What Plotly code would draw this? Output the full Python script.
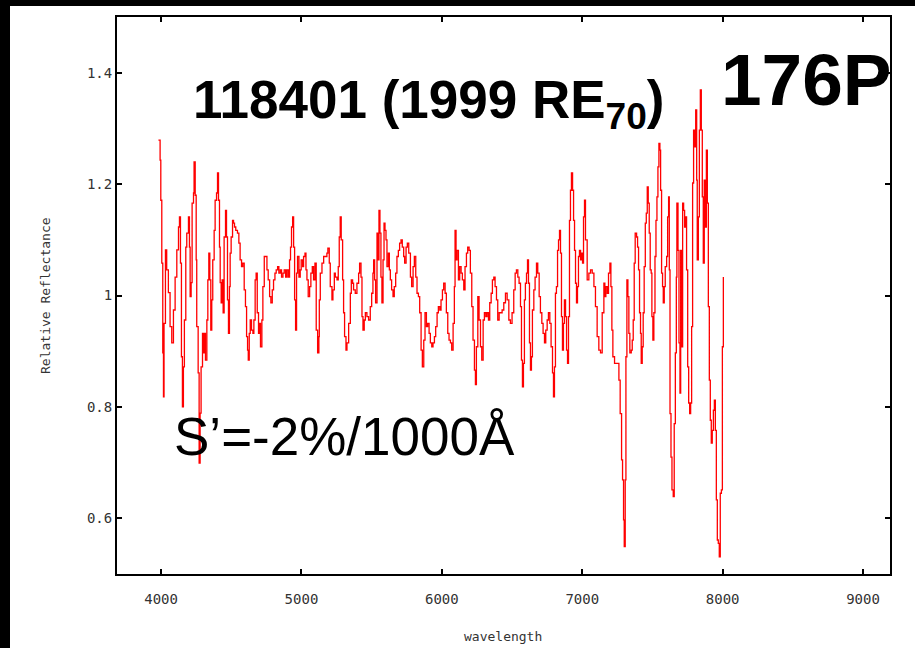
import plotly.graph_objects as go

# wavelength (Angstrom) and relative reflectance
wavelength = [
    3981, 3993, 3998, 4005, 4012, 4017, 4021, 4031, 4040, 4052, 4064, 4076, 4088, 4100, 4112, 4124,
    4131, 4138, 4145, 4152, 4159, 4166, 4176, 4183, 4195, 4202, 4207, 4214, 4221, 4231, 4235, 4243,
    4250, 4254, 4264, 4271, 4278, 4285, 4295, 4302, 4309, 4316, 4326, 4333, 4340, 4347, 4354, 4361,
    4368, 4378, 4385, 4395, 4402, 4409, 4416, 4421, 4428, 4435, 4442, 4449, 4459, 4466, 4473, 4480,
    4487, 4492, 4499, 4509, 4516, 4523, 4532, 4544, 4554, 4563, 4573, 4582, 4592, 4601, 4609, 4616,
    4621, 4628, 4635, 4644, 4654, 4661, 4670, 4677, 4685, 4694, 4701, 4708, 4718, 4725, 4735, 4744,
    4754, 4763, 4773, 4782, 4792, 4801, 4811, 4820, 4830, 4839, 4849, 4858, 4868, 4877, 4887, 4896,
    4906, 4915, 4922, 4929, 4937, 4944, 4951, 4958, 4965, 4972, 4982, 4991, 4998, 5008, 5015, 5025,
    5032, 5039, 5048, 5058, 5067, 5077, 5086, 5096, 5105, 5115, 5124,
    5127, 5134, 5146, 5158, 5169, 5181, 5188, 5198, 5205, 5217, 5224, 5234, 5241, 5253, 5262, 5269,
    5276, 5283, 5293, 5300, 5307, 5317, 5324, 5336, 5348, 5355, 5364, 5371, 5383, 5395, 5407, 5414,
    5424, 5431, 5438, 5447, 5455, 5466, 5478, 5490, 5500, 5509, 5514, 5521, 5528, 5538, 5545, 5552,
    5559, 5566, 5573, 5581, 5588, 5595, 5602, 5609, 5619, 5626, 5633, 5642, 5652, 5661, 5671, 5680,
    5690, 5699, 5709, 5718, 5728, 5735, 5745, 5754, 5764, 5776, 5785, 5795, 5804, 5814, 5823, 5833,
    5842, 5852, 5861, 5871, 5880, 5890, 5899, 5909, 5918, 5928, 5937, 5947, 5956, 5966, 5975, 5985,
    5994, 6004, 6013, 6023, 6032, 6042, 6051, 6061, 6070, 6080, 6089, 6094, 6101, 6108, 6118, 6127,
    6137, 6146, 6156, 6165, 6175, 6184, 6194, 6203, 6213, 6222, 6232, 6239, 6246, 6256, 6265, 6275,
    6284, 6294, 6303, 6313, 6322, 6332, 6341, 6351, 6360, 6370, 6379, 6389, 6398, 6408,
    6429, 6441, 6453, 6465, 6477, 6488, 6500, 6512, 6522, 6531, 6541, 6550, 6560, 6567, 6574, 6581,
    6588, 6595, 6603, 6610, 6617, 6624, 6631, 6638, 6645, 6655, 6664, 6674, 6683, 6693, 6702, 6712,
    6721, 6731, 6740, 6750, 6759, 6769, 6778, 6788, 6795, 6802, 6809, 6816, 6824, 6831, 6838, 6845,
    6852, 6859, 6866, 6873, 6881, 6888, 6895, 6902, 6909, 6916, 6923, 6931, 6938, 6945, 6952, 6959,
    6966, 6973, 6980, 6988, 6995, 7002,
    7009, 7016, 7023, 7035, 7047, 7059, 7071, 7083, 7094, 7106, 7118, 7130, 7142, 7154, 7161, 7168,
    7178, 7187, 7197, 7204, 7211, 7218, 7230, 7242, 7254, 7261, 7270, 7280, 7287, 7294, 7299, 7306,
    7311, 7318, 7325, 7332, 7339, 7349, 7356, 7363, 7370, 7377, 7387, 7394, 7401, 7408, 7415, 7420,
    7427, 7434, 7441, 7449, 7456, 7463, 7470, 7477, 7484, 7491, 7496, 7503, 7510, 7518, 7525, 7532,
    7539, 7546, 7553, 7558, 7565, 7572, 7577, 7584, 7591, 7601, 7608, 7615, 7620, 7625, 7632, 7639,
    7648, 7655, 7663, 7670, 7674, 7682, 7689, 7696, 7701, 7708, 7715, 7722, 7729, 7736, 7743, 7751,
    7758, 7765, 7772, 7779, 7786, 7793, 7800, 7808, 7815, 7819, 7827, 7834, 7841, 7848, 7855, 7862,
    7869, 7876, 7884, 7891, 7898, 7905, 7912, 7919, 7926, 7934, 7941, 7948, 7955, 7962, 7969, 7976,
    7983, 7991, 7998, 8005,
]

reflectance = [
    1.279, 1.243, 1.171, 1.058, 0.897, 0.818, 0.950, 1.082, 1.046, 1.005, 0.944, 0.915, 0.974, 1.033, 1.082, 1.123,
    1.141, 1.058, 0.890, 0.800, 0.872, 0.956, 1.087, 1.112, 1.141, 1.087, 0.998, 1.023, 1.166, 1.184, 1.240, 1.180,
    1.064, 0.944, 0.861, 0.699, 0.789, 0.872, 0.932, 0.897, 0.932, 0.884, 0.956, 1.028, 1.076, 1.028, 0.938, 0.992,
    1.064, 1.117, 1.171, 1.184, 1.220, 1.171, 1.087, 1.023, 0.987, 1.028, 0.969, 1.105, 1.153, 1.105, 0.992, 0.932,
    1.016, 1.076, 1.105, 1.135, 1.130, 1.123, 1.117, 1.112, 1.094, 1.064, 1.052, 1.058, 1.010, 0.980, 0.926, 0.902,
    0.884, 0.932, 0.956, 0.938, 0.932, 0.956, 1.028, 1.040, 0.969, 0.932, 0.950, 0.908, 0.956, 1.016, 1.070, 1.070,
    1.046, 1.028, 0.998, 0.987, 1.010, 1.028, 1.040, 1.046, 1.052, 1.040, 1.046, 1.033, 1.040, 1.046, 1.033, 1.046,
    1.033, 1.064, 1.087, 1.123, 1.141, 1.087, 0.992, 0.938, 1.040, 1.070, 1.033, 1.046, 1.064, 1.052, 1.070, 1.076,
    1.046, 1.028, 0.998, 1.016, 1.040, 1.052, 1.028, 1.058, 0.938, 0.897, 0.926,
    0.992, 1.040, 1.058, 1.070, 1.070, 1.076, 1.085, 1.058, 1.016, 0.992, 1.010, 1.040, 1.033, 1.028, 1.052, 1.105,
    1.141, 1.100, 1.028, 0.969, 0.926, 0.902, 0.915, 0.950, 1.004, 1.028, 1.022, 1.010, 1.004, 1.022, 1.040, 1.058,
    1.033, 0.962, 0.938, 0.956, 0.969, 0.962, 0.956, 0.980, 1.004, 1.040, 1.064, 1.028, 0.987, 1.112, 1.064, 1.153,
    1.112, 1.033, 0.987, 1.064, 1.130, 1.117, 1.100, 1.052, 1.076, 1.046, 1.028, 1.010, 0.998, 1.016, 1.040, 1.070,
    1.081, 1.094, 1.100, 1.087, 1.070, 1.058, 1.087, 1.094, 1.076, 1.033, 1.016, 1.052, 1.070, 1.033, 1.004, 0.998,
    0.969, 0.902, 0.872, 0.920, 0.969, 0.944, 0.950, 0.932, 0.915, 0.908, 0.915, 0.926, 0.944, 0.969, 0.980, 0.974,
    0.992, 1.010, 1.022, 1.004, 0.969, 0.932, 0.920, 0.915, 0.902, 0.950, 1.016, 1.117, 1.064, 1.081, 1.028, 1.052,
    1.040, 1.028, 1.010, 1.052, 1.076, 1.087, 1.081, 1.040, 0.980, 0.920, 0.866, 0.840, 0.908, 0.998, 0.956, 0.908,
    0.884, 0.956, 0.969, 0.962, 0.969, 0.956, 0.987, 1.004, 1.028, 1.033, 1.016, 0.992, 0.956, 0.969,
    0.974, 0.987, 1.004, 0.992, 0.956, 0.950, 0.969, 1.010, 1.040, 1.046, 1.033, 1.022, 0.980, 0.884, 0.836, 0.878,
    0.992, 1.022, 1.040, 1.064, 1.022, 0.915, 0.866, 0.890, 0.974, 1.010, 1.033, 1.058, 1.040, 0.998, 0.969, 0.950,
    0.932, 0.915, 0.938, 0.956, 0.969, 0.950, 0.908, 0.861, 0.818, 0.872, 1.004, 1.016, 1.081, 1.100, 1.117, 1.076,
    0.962, 0.902, 0.950, 0.992, 0.962, 0.902, 0.878, 0.962, 1.135, 1.189, 1.220, 1.189, 1.135, 1.081, 1.022, 0.987,
    1.016, 1.070, 1.081, 1.064, 1.076, 1.058,
    1.141, 1.171, 1.100, 1.028, 1.040, 1.046, 1.040, 1.016, 0.980, 0.926, 0.902, 0.897, 0.969, 1.022, 0.998, 1.016,
    1.004, 1.040, 1.058, 1.016, 0.938, 0.890, 0.878, 0.878, 0.878, 0.848, 0.788, 0.705, 0.669, 0.597, 0.549, 0.669,
    0.890, 1.028, 0.998, 0.932, 0.897, 0.902, 0.920, 0.956, 1.058, 1.112, 1.105, 1.087, 1.046, 0.969, 0.932, 0.878,
    0.908, 0.969, 1.052, 1.130, 1.148, 1.195, 1.166, 1.112, 1.046, 1.040, 0.962, 0.920, 0.969, 1.070, 1.135, 1.177,
    1.231, 1.273, 1.261, 1.189, 1.040, 1.016, 0.987, 1.016, 1.052, 1.070, 1.141, 1.177, 1.046, 0.788, 0.710, 0.651,
    0.639, 0.770, 0.897, 1.033, 1.166, 1.081, 0.915, 0.825, 1.081, 0.908, 1.166, 1.153, 1.123, 1.141, 1.046, 0.872,
    0.807, 0.788, 0.807, 0.944, 1.202, 1.297, 1.267, 1.333, 1.207, 1.064, 1.141, 1.297, 1.369, 1.297, 1.177, 1.058,
    1.207, 1.123, 1.261, 1.166, 0.980, 0.848, 0.776, 0.735, 0.758, 0.794, 0.812, 0.758, 0.633, 0.561, 0.555, 0.531,
    0.645, 0.651, 0.908, 1.033,
]

x_ticks = [4000, 5000, 6000, 7000, 8000, 9000]
x_tick_labels = ["4000", "5000", "6000", "7000", "8000", "9000"]
y_ticks = [0.6, 0.8, 1.0, 1.2, 1.4]
y_tick_labels = ["0.6", "0.8", "1", "1.2", "1.4"]

x_title = "wavelength"
y_title = "Relative Reflectance"
title_text = "<b>118401 (1999 RE<sub>70</sub>)</b>"
tag_text = "<b>176P</b>"
slope_text = "S’=-2%/1000Å"

W, H = 915, 648
L, R, T, B = 117, 890, 17, 574  # plot area in pixels


def px_x(px):
    return (px - L) / (R - L)


def px_y(py):
    return (B - py) / (B - T)


fig = go.Figure()
fig.add_trace(go.Scatter(
    x=wavelength, y=reflectance, mode="lines",
    line=dict(color="#ff0000", width=1.3, shape="hv"),
    hoverinfo="x+y", showlegend=False,
))

tick_font = dict(family="DejaVu Sans Mono", size=14, color="#333333")
title_font = dict(family="DejaVu Sans Mono", size=13, color="#333333")
axis_common = dict(
    showgrid=False, zeroline=False, showline=True, linecolor="black", linewidth=2,
    mirror="ticks", ticks="inside", ticklen=5, tickwidth=2, tickcolor="black",
    tickfont=tick_font, automargin=False,
)

fig.update_layout(
    width=W, height=H,
    margin=dict(l=L, r=W - R, t=T, b=H - B, pad=0, autoexpand=False),
    paper_bgcolor="white", plot_bgcolor="white",
    xaxis=dict(range=[3686, 9192], tickvals=x_ticks, ticktext=x_tick_labels, ticklabelstandoff=11,
               **axis_common),
    yaxis=dict(range=[0.5, 1.5], tickvals=y_ticks, ticktext=y_tick_labels, **axis_common),
    shapes=[
        dict(type="rect", xref="paper", yref="paper", x0=px_x(0), x1=px_x(10), y0=px_y(H), y1=px_y(0),
             fillcolor="black", line=dict(width=0), layer="above"),
        dict(type="rect", xref="paper", yref="paper", x0=px_x(0), x1=px_x(W), y0=px_y(6), y1=px_y(0),
             fillcolor="black", line=dict(width=0), layer="above"),
    ],
    annotations=[
        dict(text=x_title, xref="paper", yref="paper", x=px_x(503), y=px_y(636),
             xanchor="center", yanchor="middle", showarrow=False, font=title_font),
        dict(text=y_title, xref="paper", yref="paper", x=px_x(45), y=px_y(296),
             xanchor="center", yanchor="middle", showarrow=False, textangle=-90, font=title_font),
        dict(text=title_text, xref="paper", yref="paper", x=px_x(191), y=px_y(103),
             xanchor="left", yanchor="middle", showarrow=False,
             font=dict(family="Liberation Sans", size=53, color="black")),
        dict(text=tag_text, xref="paper", yref="paper", x=px_x(719), y=px_y(79),
             xanchor="left", yanchor="middle", showarrow=False,
             font=dict(family="Liberation Sans", size=73, color="black")),
        dict(text=slope_text, xref="paper", yref="paper", x=px_x(172), y=px_y(436),
             xanchor="left", yanchor="middle", showarrow=False,
             font=dict(family="Liberation Sans", size=53, color="black")),
    ],
)

fig.write_html("out.html", config={"displayModeBar": False},
               post_script="document.body.style.margin='0';document.body.style.padding='0';")
